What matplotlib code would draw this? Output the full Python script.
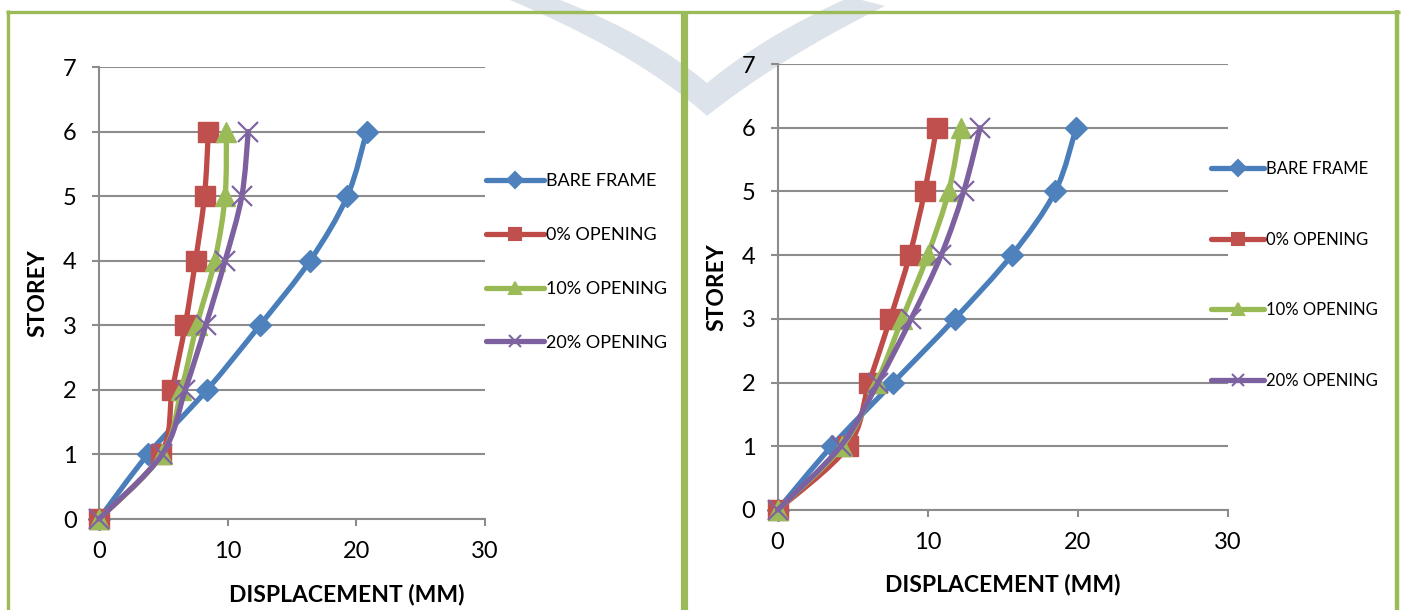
import numpy as np
import matplotlib
matplotlib.use("Agg")
import matplotlib.pyplot as plt
from matplotlib.path import Path
from matplotlib.patches import PathPatch, Polygon
from matplotlib.lines import Line2D

plt.rcParams['font.family'] = ['Lato', 'DejaVu Sans']

# storey levels (common to both models)
storey = [0, 1, 2, 3, 4, 5, 6]
series_names = ['BARE FRAME', '0% OPENING', '10% OPENING', '20% OPENING']

# displacement (mm) - first model
left_bare = [0, 3.8, 8.4, 12.5, 16.4, 19.3, 20.8]
left_open0 = [0, 4.8, 5.7, 6.7, 7.5, 8.2, 8.5]
left_open10 = [0, 4.9, 6.4, 7.6, 9.0, 9.8, 9.9]
left_open20 = [0, 4.9, 6.7, 8.3, 9.8, 11.1, 11.6]

# displacement (mm) - second model
right_bare = [0, 3.6, 7.7, 11.8, 15.6, 18.5, 19.9]
right_open0 = [0, 4.7, 6.1, 7.5, 8.8, 9.8, 10.6]
right_open10 = [0, 4.3, 6.6, 8.3, 10.0, 11.4, 12.2]
right_open20 = [0, 4.2, 6.7, 8.9, 10.9, 12.4, 13.5]

x_ticks = [0, 10, 20, 30]
y_ticks = [0, 1, 2, 3, 4, 5, 6, 7]

line_cols = ['#4A7EBB', '#BE4B48', '#98B954', '#7D60A0']
mark_cols = ['#4F81BD', '#C0504D', '#9BBB59', '#8064A2']
markers = ['D', 's', '^', 'x']
msizes = [11, 14.5, 15, 15]
green = '#9BBB59'
grid_col = '#8C8C8C'


def smooth_path(x, y):
    # excel-style smoothed line: cubic bezier through every point
    pts = np.column_stack([x, y]).astype(float)
    n = len(pts)
    verts = [pts[0]]
    codes = [Path.MOVETO]
    for i in range(n - 1):
        p0 = pts[i - 1] if i > 0 else pts[i]
        p1 = pts[i]
        p2 = pts[i + 1]
        p3 = pts[i + 2] if i + 2 < n else pts[i + 1]
        c1 = p1 + (p2 - p0) / 6.0
        c2 = p2 - (p3 - p1) / 6.0
        verts += [c1, c2, p2]
        codes += [Path.CURVE4] * 3
    return Path(verts, codes)


def draw_panel(rect, data, legend_pos, legend_fs, legend_gap, xlab_x, ylab_x):
    ax = fig.add_axes(rect)
    ax.patch.set_visible(False)
    for i, xs in enumerate(data):
        patch = PathPatch(smooth_path(xs, storey), facecolor='none',
                          edgecolor=line_cols[i], lw=3.8, capstyle='round',
                          joinstyle='round', zorder=3 + i, clip_on=False)
        ax.add_patch(patch)
        if markers[i] == 'x':
            ax.plot(xs, storey, ls='none', marker='x', ms=msizes[i],
                    mec=mark_cols[i], mew=1.6, zorder=3 + i, clip_on=False)
        else:
            ax.plot(xs, storey, ls='none', marker=markers[i], ms=msizes[i],
                    mfc=mark_cols[i], mec=mark_cols[i], mew=1, zorder=3 + i,
                    clip_on=False)

    ax.set_xlim(0, 30)
    ax.set_ylim(0, 7)
    ax.set_xticks(x_ticks)
    ax.set_yticks(y_ticks)
    ax.grid(axis='y', color=grid_col, lw=1.5)
    ax.set_axisbelow(True)
    for s in ['top', 'right']:
        ax.spines[s].set_visible(False)
    for s in ['left', 'bottom']:
        ax.spines[s].set_color(grid_col)
        ax.spines[s].set_linewidth(1.5)
    ax.tick_params(axis='both', direction='out', length=5, width=1.5,
                   color=grid_col, labelsize=17, pad=11)

    ax.set_xlabel('DISPLACEMENT (MM)', fontsize=16.5, fontweight='bold')
    ax.xaxis.set_label_coords(xlab_x, -0.168)
    ax.xaxis.label.set_va('center')
    ax.set_ylabel('STOREY', fontsize=16.5, fontweight='bold')
    ax.yaxis.set_label_coords(ylab_x, 0.5)
    ax.yaxis.label.set_va('center')

    handles = []
    for i in range(4):
        ms = 8 if markers[i] != 'x' else 9
        handles.append(Line2D([], [], color=line_cols[i], lw=3.8,
                              solid_capstyle='round', marker=markers[i],
                              ms=ms, mfc=mark_cols[i], mec=mark_cols[i],
                              mew=1.5))
    ax.legend(handles, series_names, loc='upper left',
              bbox_to_anchor=legend_pos, bbox_transform=fig.transFigure,
              frameon=False, fontsize=legend_fs, handlelength=3.2,
              handletextpad=0.1, labelspacing=legend_gap, borderpad=0,
              borderaxespad=0)
    return ax


fig = plt.figure(figsize=(14.02, 6.10), dpi=100)

# faint logo chevron in the background
W, H = 1402.0, 610.0


def quad(p0, c, p1, n=30):
    t = np.linspace(0, 1, n)[:, None]
    p0, c, p1 = map(np.asarray, (p0, c, p1))
    return (1 - t) ** 2 * p0 + 2 * (1 - t) * t * c + t ** 2 * p1


upper = np.vstack([quad((560, 0), (650, 35), (707, 83)),
                   quad((707, 83), (765, 35), (850, -3))])
lower = np.vstack([quad((885, 6), (780, 58), (707, 116)),
                   quad((707, 116), (640, 55), (510, 0))])
chev = np.vstack([upper, lower])
chev[:, 0] /= W
chev[:, 1] = 1 - chev[:, 1] / H
fig.patches.append(Polygon(chev, closed=True, transform=fig.transFigure,
                           facecolor='#DDE3EA', edgecolor='none', zorder=-1))

draw_panel([99 / W, 1 - 519 / H, 386 / W, 452 / H],
           [left_bare, left_open0, left_open10, left_open20],
           (486 / W, 1 - 173 / H), 13, 2.1, 0.6425, -0.158)
draw_panel([777.6 / W, 1 - 510 / H, 450.2 / W, 446 / H],
           [right_bare, right_open0, right_open10, right_open20],
           (1211 / W, 1 - 161 / H), 12, 3.27, 0.5, -0.1356)

# green frames around the two charts
frame_kw = dict(transform=fig.transFigure, color=green, solid_capstyle='butt')
fig.add_artist(Line2D([6 / W, 1400 / W], [1 - 11.5 / H] * 2, lw=2.4, **frame_kw))
fig.add_artist(Line2D([7.5 / W] * 2, [0, 1 - 10 / H], lw=2.4, **frame_kw))
fig.add_artist(Line2D([683.5 / W] * 2, [0, 1 - 13 / H], lw=5.2, **frame_kw))
fig.add_artist(Line2D([1397 / W] * 2, [0, 1 - 10 / H], lw=3.2, **frame_kw))

fig.savefig('out.png', dpi=100, facecolor='white')
